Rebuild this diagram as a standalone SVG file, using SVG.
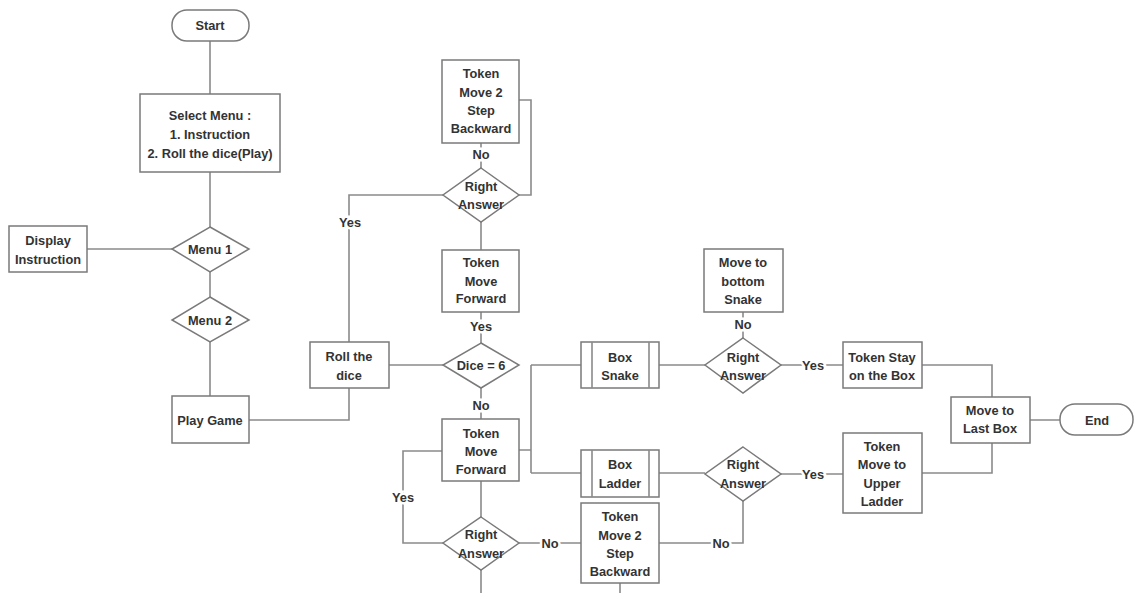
<svg xmlns="http://www.w3.org/2000/svg" width="1134" height="593" viewBox="0 0 1134 593">
<style>
.n{fill:#fff;stroke:#7a7a7a;stroke-width:1.5}
.c{fill:none;stroke:#8a8a8a;stroke-width:1.6}
text{font-family:"Liberation Sans",Arial,sans-serif;font-size:12.8px;font-weight:bold;fill:#333;text-anchor:middle}
.l{stroke:#fff;stroke-width:5;paint-order:stroke}
</style>
<rect width="1134" height="593" fill="#fff"/>
<g id="connectors">
<path class="c" d="M210,41V94 M210,172V227 M172,249H87 M210,272V297 M210,342V396"/>
<path class="c" d="M249,420H349V388 M349,342V195H443 M481,168V143 M519,100H531V195H519 M481,222V250 M481,312V343 M389,365H443 M481,388V419"/>
<path class="c" d="M519,450H531 M531,365V473 M531,365H581 M531,473H581 M659,365H705 M743,338V312 M781,365H843 M922,365H992V397"/>
<path class="c" d="M659,473H705 M781,474H843 M922,473H992V443 M1030,420H1060 M743,501V543H659"/>
<path class="c" d="M481,481V517 M481,570V593 M519,543H581 M443,543H403V451H442 M620,583V593"/>
<text class="l" x="350" y="227">Yes</text>
<text class="l" x="481" y="159">No</text>
<text class="l" x="481" y="331">Yes</text>
<text class="l" x="481" y="410">No</text>
<text class="l" x="743" y="329">No</text>
<text class="l" x="813" y="370">Yes</text>
<text class="l" x="813" y="479">Yes</text>
<text class="l" x="721" y="548">No</text>
<text class="l" x="550" y="548">No</text>
<text class="l" x="403" y="502">Yes</text>
</g>
<g id="start"><rect class="n" x="172" y="10" width="77" height="31" rx="15"/><text x="210" y="30">Start</text></g>
<g id="select"><rect class="n" x="140" y="94" width="140" height="78"/><text x="210" y="120">Select Menu :</text><text x="210" y="139">1. Instruction</text><text x="210" y="158">2. Roll the dice(Play)</text></g>
<g id="menu1"><polygon class="n" points="210,227 249,249 210,272 172,249"/><text x="210" y="254">Menu 1</text></g>
<g id="display"><rect class="n" x="9" y="226" width="78" height="46"/><text x="48" y="245">Display</text><text x="48" y="264">Instruction</text></g>
<g id="menu2"><polygon class="n" points="210,297 249,320 210,342 172,320"/><text x="210" y="325">Menu 2</text></g>
<g id="play"><rect class="n" x="172" y="396" width="77" height="47"/><text x="210" y="425">Play Game</text></g>
<g id="roll"><rect class="n" x="310" y="342" width="79" height="46"/><text x="349" y="361">Roll the</text><text x="349" y="380">dice</text></g>
<g id="backTop"><rect class="n" x="442" y="60" width="77" height="83"/><text x="481" y="78">Token</text><text x="481" y="97">Move 2</text><text x="481" y="115">Step</text><text x="481" y="133">Backward</text></g>
<g id="raTop"><polygon class="n" points="481,168 519,195 481,222 443,195"/><text x="481" y="191">Right</text><text x="481" y="209">Answer</text></g>
<g id="fwdTop"><rect class="n" x="442" y="250" width="77" height="62"/><text x="481" y="267">Token</text><text x="481" y="286">Move</text><text x="481" y="303">Forward</text></g>
<g id="dice"><polygon class="n" points="481,343 519,365 481,388 443,365"/><text x="481" y="370">Dice = 6</text></g>
<g id="fwdBot"><rect class="n" x="442" y="419" width="77" height="62"/><text x="481" y="438">Token</text><text x="481" y="456">Move</text><text x="481" y="474">Forward</text></g>
<g id="raBot"><polygon class="n" points="481,517 519,543 481,570 443,543"/><text x="481" y="539">Right</text><text x="481" y="558">Answer</text></g>
<g id="backBot"><rect class="n" x="581" y="503" width="78" height="80"/><text x="620" y="521">Token</text><text x="620" y="540">Move 2</text><text x="620" y="558">Step</text><text x="620" y="576">Backward</text></g>
<g id="snake"><rect class="n" x="581" y="342" width="78" height="46"/><path class="c" d="M592,342V388 M649,342V388"/><text x="620" y="362">Box</text><text x="620" y="380">Snake</text></g>
<g id="ladder"><rect class="n" x="581" y="450" width="78" height="47"/><path class="c" d="M592,450V497 M649,450V497"/><text x="620" y="469">Box</text><text x="620" y="488">Ladder</text></g>
<g id="raSnake"><polygon class="n" points="743,338 781,365 743,393 705,365"/><text x="743" y="362">Right</text><text x="743" y="380">Answer</text></g>
<g id="moveBottom"><rect class="n" x="704" y="249" width="79" height="63"/><text x="743" y="267">Move to</text><text x="743" y="286">bottom</text><text x="743" y="304">Snake</text></g>
<g id="raLadder"><polygon class="n" points="743,447 781,474 743,501 705,474"/><text x="743" y="469">Right</text><text x="743" y="488">Answer</text></g>
<g id="stay"><rect class="n" x="843" y="342" width="79" height="46"/><text x="882" y="362">Token Stay</text><text x="882" y="380">on the Box</text></g>
<g id="upper"><rect class="n" x="843" y="433" width="79" height="80"/><text x="882" y="451">Token</text><text x="882" y="469">Move to</text><text x="882" y="488">Upper</text><text x="882" y="506">Ladder</text></g>
<g id="last"><rect class="n" x="951" y="397" width="79" height="46"/><text x="990" y="415">Move to</text><text x="990" y="433">Last Box</text></g>
<g id="end"><rect class="n" x="1060" y="404" width="73" height="31" rx="15"/><text x="1097" y="425">End</text></g>
</svg>
